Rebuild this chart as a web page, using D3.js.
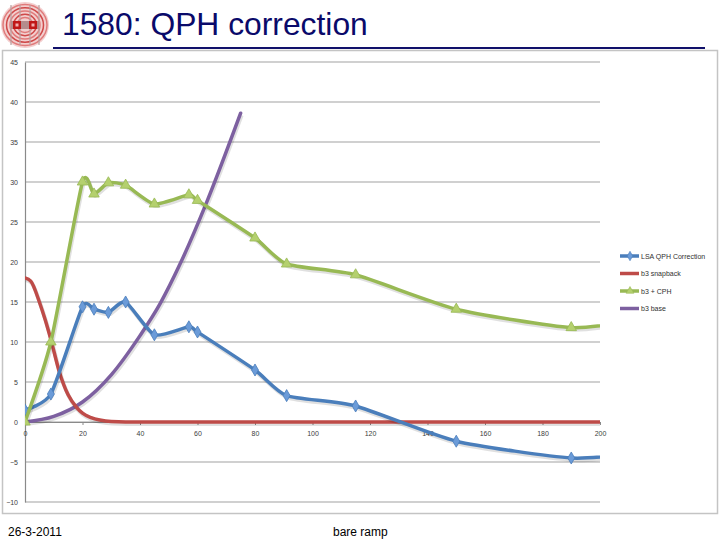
<!DOCTYPE html>
<html>
<head>
<meta charset="utf-8">
<script src="https://cdn.jsdelivr.net/npm/d3@7"></script>
<style>
  body { margin: 0; background: #fff; }
  svg { display: block; font-family: "Liberation Sans", Arial, sans-serif; }
</style>
</head>
<body>
<svg id="chart" width="720" height="540"></svg>
<script>
// data
const xTicks = [0, 20, 40, 60, 80, 100, 120, 140, 160, 180, 200];
const yTicks = [-10, -5, 0, 5, 10, 15, 20, 25, 30, 35, 40, 45];

// LSA QPH Correction (last point lies beyond the axis and is clipped)
const lsaX = [0, 9, 20, 24, 29, 35, 45, 57, 60, 80, 91, 115, 150, 190, 215];
const lsaY = [1.5, 3.5, 14.4, 14.1, 13.7, 15.0, 10.9, 11.9, 11.25, 6.5, 3.3, 2.0, -2.4, -4.5, -3.8];

// b3 snapback
const snapX = [0, 2, 5, 7, 9, 12, 15, 18, 20, 23, 26, 30, 35, 200];
const snapY = [18, 17.6, 15, 12.8, 10.3, 6.2, 3.4, 1.8, 1.1, 0.55, 0.25, 0.05, 0, 0];

// b3 + CPH
const qphX = [0, 9, 20, 24, 29, 35, 45, 57, 60, 80, 91, 115, 150, 190, 215];
const qphY = [0, 10, 30.0, 28.5, 29.9, 29.6, 27.25, 28.4, 27.7, 23.0, 19.75, 18.4, 14.1, 11.8, 12.9];

// b3 base
const baseX = [0, 10, 20, 30, 40, 47, 54, 63, 75];
const baseY = [0, 0.7, 2.5, 5.9, 10.8, 14.8, 19.8, 27.3, 38.6];

const seriesNames = ["LSA QPH Correction", "b3 snapback", "b3 + CPH", "b3 base"];

const svg = d3.select("#chart");

// ---- slide header: logo, title, rule
const logo = svg.append("g").attr("transform", "translate(25,25)");
logo.append("ellipse").attr("rx", 24).attr("ry", 23).attr("fill", "#f3cfcf");
[22, 18.5, 15, 11.5, 8].forEach((r, i) => {
  logo.append("ellipse").attr("rx", r).attr("ry", r * 0.93)
    .attr("fill", "none").attr("stroke", i % 2 ? "#cf4a4a" : "#e07a7a").attr("stroke-width", 1.5);
});
[-14, -5, 5, 14].forEach(cx => {
  logo.append("rect").attr("x", cx - 1).attr("y", -20).attr("width", 2).attr("height", 40)
    .attr("fill", "#b9a0a0").attr("opacity", 0.6);
});
logo.append("rect").attr("x", -14).attr("y", -4).attr("width", 28).attr("height", 8).attr("fill", "#b48c8c");
[-8, 8].forEach(cx => {
  logo.append("rect").attr("x", cx - 4).attr("y", -4).attr("width", 8).attr("height", 8).attr("fill", "#c01818");
  logo.append("rect").attr("x", cx - 1.5).attr("y", -1.5).attr("width", 3).attr("height", 3).attr("fill", "#f2b0b0");
});

svg.append("text")
  .attr("x", 62).attr("y", 35)
  .attr("font-size", 31.8)
  .attr("fill", "#0a0a6a")
  .text("1580: QPH correction");

// chart frame
svg.append("rect")
  .attr("x", 2.5).attr("y", 50.5).attr("width", 715).attr("height", 463)
  .attr("fill", "none").attr("stroke", "#c4c4c4").attr("stroke-width", 1.5);

svg.append("line")
  .attr("x1", 53).attr("x2", 705).attr("y1", 48).attr("y2", 48)
  .attr("stroke", "#10106a").attr("stroke-width", 2);

// ---- plot area
const plot = { left: 25, right: 600, top: 62, bottom: 502 };

const x = d3.scaleLinear().domain([0, 200]).range([plot.left, plot.right]);
const y = d3.scaleLinear().domain([-10, 45]).range([plot.bottom, plot.top]);

// gridlines
svg.append("g")
  .selectAll("line")
  .data(yTicks)
  .join("line")
  .attr("x1", plot.left).attr("x2", plot.right)
  .attr("y1", d => y(d)).attr("y2", d => y(d))
  .attr("stroke", "#c0c0c0").attr("stroke-width", 1.3);

// y axis
const yAxis = svg.append("g")
  .attr("transform", `translate(${plot.left},0)`)
  .call(d3.axisLeft(y).tickValues(yTicks).tickSize(0).tickPadding(7));
yAxis.select(".domain").attr("stroke", "#8a8a8a").attr("stroke-width", 1.2);
yAxis.selectAll("text").attr("font-size", 7).attr("fill", "#404040")
  .attr("font-family", "Liberation Sans, Arial, sans-serif");

// x axis crosses at 0
const xAxis = svg.append("g")
  .attr("transform", `translate(0,${y(0)})`)
  .call(d3.axisBottom(x).tickValues(xTicks).tickSize(3).tickPadding(6));
xAxis.select(".domain").attr("stroke", "#8a8a8a");
xAxis.selectAll(".tick line").attr("stroke", "#8a8a8a");
xAxis.selectAll("text").attr("font-size", 7).attr("fill", "#404040")
  .attr("font-family", "Liberation Sans, Arial, sans-serif");

// clip to plot area
svg.append("clipPath").attr("id", "plotClip")
  .append("rect")
  .attr("x", plot.left).attr("y", plot.top - 10)
  .attr("width", plot.right - plot.left).attr("height", plot.bottom - plot.top + 10);

const smooth = d3.curveCardinal.tension(0.4);

const series = [
  { name: seriesNames[0], xs: lsaX, ys: lsaY, color: "#4a7ebb", marker: "#6b9bd8", symbol: d3.symbolDiamond, curve: smooth },
  { name: seriesNames[1], xs: snapX, ys: snapY, color: "#be4b48", marker: null, curve: d3.curveMonotoneX },
  { name: seriesNames[2], xs: qphX, ys: qphY, color: "#98b954", marker: "#b4d06e", symbol: d3.symbolTriangle, curve: smooth },
  { name: seriesNames[3], xs: baseX, ys: baseY, color: "#7d60a0", marker: null, curve: d3.curveMonotoneX }
];

const marks = svg.append("g").attr("clip-path", "url(#plotClip)");

// draw order: base, snapback, LSA, b3+CPH so overlaps look like the slide
[3, 1, 0, 2].forEach(i => {
  const s = series[i];
  const pts = s.xs.map((d, j) => [d, s.ys[j]]);
  const line = d3.line().x(d => x(d[0])).y(d => y(d[1])).curve(s.curve);

  // faint shadow under each line
  marks.append("path")
    .attr("d", line(pts))
    .attr("fill", "none")
    .attr("stroke", "rgba(0,0,0,0.12)")
    .attr("stroke-width", 4)
    .attr("transform", "translate(1,2)");

  marks.append("path")
    .attr("d", line(pts))
    .attr("fill", "none")
    .attr("stroke", s.color)
    .attr("stroke-width", 3.5)
    .attr("stroke-linejoin", "round")
    .attr("stroke-linecap", "round");

  if (s.symbol) {
    marks.selectAll(null)
      .data(pts)
      .join("path")
      .attr("transform", d => `translate(${x(d[0])},${y(d[1])})`)
      .attr("d", d3.symbol().type(s.symbol).size(s.symbol === d3.symbolTriangle ? 48 : 42))
      .attr("fill", s.marker)
      .attr("stroke", s.color)
      .attr("stroke-width", 0.8);
  }
});

// legend
const legend = svg.append("g").attr("transform", "translate(620,256)");
series.forEach((s, i) => {
  const g = legend.append("g").attr("transform", `translate(0,${i * 17.5})`);
  g.append("line").attr("x1", 0).attr("x2", 19).attr("y1", 0).attr("y2", 0)
    .attr("stroke", s.color).attr("stroke-width", 3.5);
  if (s.symbol) {
    g.append("path")
      .attr("transform", "translate(10,0)")
      .attr("d", d3.symbol().type(s.symbol).size(26))
      .attr("fill", s.marker).attr("stroke", s.color).attr("stroke-width", 0.6);
  }
  g.append("text").attr("x", 21).attr("y", 2.5)
    .attr("font-size", 7).attr("fill", "#303030")
    .text(s.name);
});

// footer
svg.append("text").attr("x", 8).attr("y", 536).attr("font-size", 12).attr("fill", "#000").text("26-3-2011");
svg.append("text").attr("x", 333).attr("y", 536).attr("font-size", 12).attr("fill", "#000").text("bare ramp");
</script>
</body>
</html>
